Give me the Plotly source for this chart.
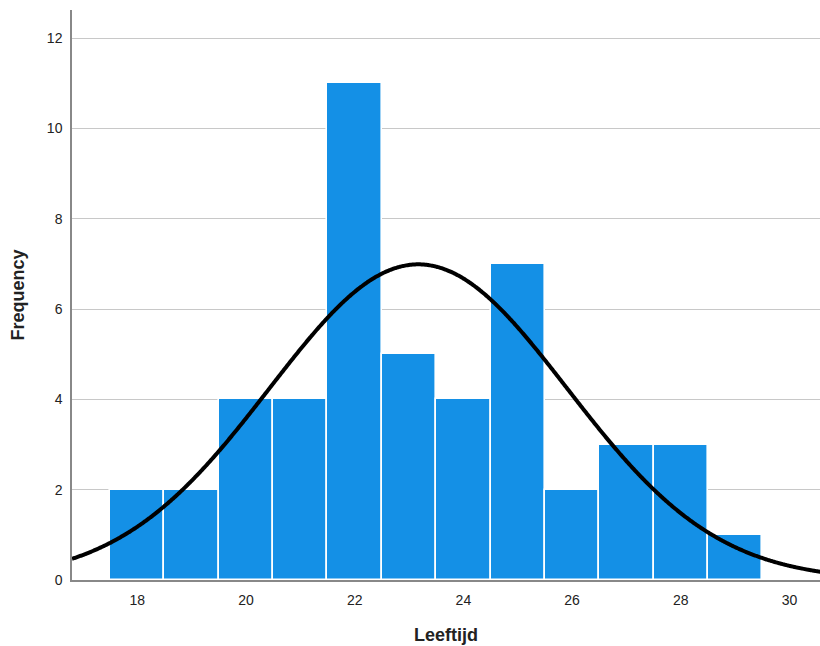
import numpy as np
import plotly.graph_objects as go

ages = [18, 19, 20, 21, 22, 23, 24, 25, 26, 27, 28, 29]
counts = [2, 2, 4, 4, 11, 5, 4, 7, 2, 3, 3, 1]
x_ticks = [18, 20, 22, 24, 26, 28, 30]
y_ticks = [0, 2, 4, 6, 8, 10, 12]

# Fitted normal curve parameters (as in SPSS output)
mean_age = 23.17
sd_age = 2.74
n_total = 48
bin_width = 1

xs = np.linspace(16.8, 30.7, 600)
ys = n_total * bin_width / (sd_age * np.sqrt(2 * np.pi)) * np.exp(-0.5 * ((xs - mean_age) / sd_age) ** 2)

fig = go.Figure()
fig.add_trace(go.Bar(
    x=ages, y=counts, width=1,
    marker=dict(color="#1490e6", line=dict(color="white", width=1.6)),
    showlegend=False, hoverinfo="x+y",
))
fig.add_trace(go.Scatter(
    x=xs, y=ys, mode="lines",
    line=dict(color="black", width=4, shape="spline"),
    showlegend=False, hoverinfo="skip",
))

fig.update_layout(
    width=820, height=646,
    margin=dict(l=72, r=0, t=10, b=66),
    plot_bgcolor="white", paper_bgcolor="white",
    bargap=0,
    font=dict(family="Liberation Sans, Arial, sans-serif", color="#222"),
    xaxis=dict(
        range=[16.8, 30.56], tickvals=x_ticks, showgrid=False, zeroline=False,
        showline=True, linecolor="#888", linewidth=1.5,
        ticks="", tickfont=dict(size=14), ticklabelstandoff=6,
        title=dict(text="<b>Leeftijd</b>", font=dict(size=18), standoff=22),
    ),
    yaxis=dict(
        range=[0, 12.62], tickvals=y_ticks, showgrid=True, gridcolor="#c8c8c8",
        gridwidth=1.2, zeroline=False,
        showline=True, linecolor="#888", linewidth=1.5,
        ticks="", tickfont=dict(size=14), ticklabelstandoff=5,
        title=dict(text="<b>Frequency</b>", font=dict(size=18), standoff=18),
    ),
)

fig.write_html(
    "out.html",
    config={"displayModeBar": False},
    post_script="document.body.style.margin='0';document.body.style.overflow='hidden';",
)
